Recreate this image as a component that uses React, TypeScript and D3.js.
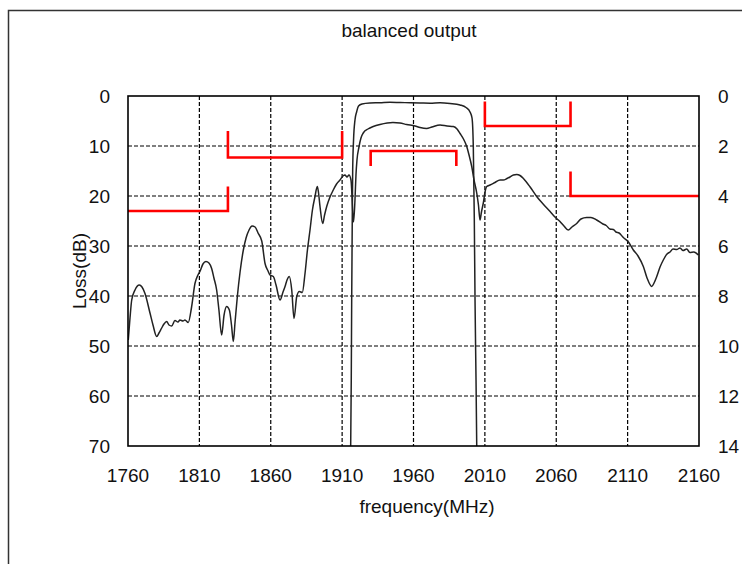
import React, { useEffect, useRef } from "react";
import * as d3 from "d3";

// ---- Data ----
const title = "balanced output";
const xLabel = "frequency(MHz)";
const yLabel = "Loss(dB)";
const xTicks = [1760, 1810, 1860, 1910, 1960, 2010, 2060, 2110, 2160];
const yLeftTicks = [0, 10, 20, 30, 40, 50, 60, 70];
const yRightTicks = [0, 2, 4, 6, 8, 10, 12, 14];

// Wideband response (left axis, dB)
const wideFreq = [
  1760.2, 1761.4, 1762.6, 1764.9, 1767.9, 1769.8, 1771.9, 1775.4, 1777.5, 1780.1,
  1781.7, 1783.6, 1785.2, 1787.1, 1788.7, 1790.6, 1792.9, 1795.0, 1796.4, 1798.5,
  1799.9, 1802.2, 1804.6, 1806.9, 1809.0, 1810.4, 1812.5, 1814.6, 1816.7, 1818.6,
  1820.2, 1822.1, 1823.7, 1825.6, 1827.3, 1829.1, 1831.0, 1832.5, 1833.8, 1835.0,
  1836.6, 1838.5, 1840.8, 1842.7, 1844.8, 1846.9, 1849.0, 1851.1, 1853.7, 1856.0,
  1858.1, 1859.5, 1861.8, 1863.7, 1866.5, 1868.6, 1870.0, 1871.4, 1873.0, 1874.7,
  1876.3, 1878.2, 1880.0, 1882.1, 1884.0, 1885.7, 1887.5, 1889.2, 1891.0, 1892.6,
  1893.4, 1894.5, 1896.4, 1897.7, 1899.2, 1901.5, 1903.8, 1906.1, 1908.5, 1910.6,
  1912.0, 1913.4, 1914.8, 1916.2, 1918.0, 1919.0, 1919.7, 1920.4, 1921.8, 1923.2,
  1924.8, 1928.1, 1931.8, 1936.5, 1945.6, 1950.5, 1955.2, 1961.1, 1964.6, 1969.2,
  1972.9, 1978.6, 1983.5, 1987.9, 1990.5, 1992.6, 1995.0, 1997.3, 1998.9, 2000.8,
  2002.4, 2004.3, 2005.5, 2006.6, 2007.6, 2008.9, 2010.1, 2011.3, 2013.6, 2017.1,
  2020.6, 2022.9, 2025.5, 2027.6, 2030.0, 2032.3, 2034.6, 2037.0, 2041.7, 2046.3,
  2050.8, 2055.7, 2059.1, 2062.6, 2065.4, 2068.4, 2071.0, 2074.3, 2077.3, 2081.3,
  2084.3, 2088.3, 2092.7, 2095.0, 2097.6, 2100.0, 2101.8, 2104.0, 2107.0, 2110.3,
  2114.0, 2117.3, 2121.0, 2123.6, 2126.9, 2128.5, 2130.4, 2132.7, 2135.0, 2137.6,
  2139.7, 2141.8, 2144.4, 2146.7, 2148.8, 2151.4, 2153.6, 2156.4, 2159.5,
];
const wideLoss = [
  48.8, 44.4, 40.8, 38.8, 37.8, 38.2, 39.5, 43.4, 45.8, 48.1,
  47.4, 46.4, 45.6, 45.1, 45.8, 46.0, 44.9, 45.2, 44.8, 45.0,
  44.8, 45.3, 42.1, 37.5, 35.8, 35.1, 33.6, 33.1, 33.4, 34.5,
  36.4, 38.8, 42.8, 47.8, 43.8, 42.1, 42.8, 45.8, 49.1, 45.2,
  40.1, 35.2, 30.8, 28.4, 26.8, 26.0, 26.2, 27.4, 29.0, 33.5,
  35.0, 35.8, 36.1, 37.8, 40.8, 39.2, 38.1, 36.8, 36.1, 38.8,
  44.5, 40.1, 39.1, 39.3, 35.5, 30.8, 26.8, 22.8, 20.1, 18.1,
  19.2, 22.1, 25.5, 23.8, 22.1, 20.2, 18.8, 17.6, 16.8, 16.0,
  15.8, 16.2, 15.8, 16.8, 25.2, 20.8, 15.8, 12.8, 10.2, 8.4,
  7.4, 6.6, 6.1, 5.7, 5.3, 5.4, 5.7, 6.0, 6.3, 6.5,
  6.2, 5.8, 6.0, 6.1, 6.6, 7.5, 8.6, 10.1, 11.8, 14.1,
  16.8, 19.4, 21.8, 24.8, 23.2, 21.4, 19.2, 18.1, 17.8, 17.3,
  16.8, 16.8, 16.5, 16.2, 15.8, 15.7, 15.9, 16.5, 18.2, 20.1,
  21.6, 23.1, 24.2, 25.1, 26.0, 26.8, 26.2, 25.5, 24.6, 24.3,
  24.3, 24.8, 25.6, 25.9, 26.6, 26.7, 27.2, 27.4, 28.3, 29.1,
  30.8, 32.0, 34.1, 36.4, 38.1, 37.4, 36.1, 34.2, 32.8, 31.6,
  31.2, 30.6, 30.7, 30.4, 30.9, 30.6, 31.3, 31.2, 31.8,
];

// Passband response (right axis)
const passFreq = [
  1916.0, 1916.4, 1916.7, 1917.1, 1917.4, 1918.0, 1919.0, 1920.2, 1921.5, 1923.9,
  1929.5, 1936.5, 1943.5, 1950.5, 1957.6, 1964.6, 1971.6, 1978.6, 1985.6, 1992.6,
  1996.8, 1999.6, 2001.0, 2001.9, 2002.6, 2003.1, 2003.8, 2004.3,
];
const passLoss = [
  14.0, 11.36, 8.16, 4.96, 2.96, 1.76, 0.96, 0.63, 0.40, 0.32,
  0.28, 0.27, 0.25, 0.26, 0.27, 0.28, 0.29, 0.27, 0.30, 0.36,
  0.46, 0.64, 0.88, 2.04, 4.96, 8.16, 11.36, 14.0,
];

// Specification masks
const maskStart = [1760, 1830, 1930, 2010, 2070];
const maskEnd = [1830, 1910, 1990, 2070, 2160];
const maskLevel = [23, 12.3, 2.2, 6, 20];
const maskTickTo = [18.1, 7, 2.8, 1.1, 15.1];
const maskAxis = ["left", "left", "right", "left", "left"];
const maskTickAtStart = [false, true, true, true, true];
const maskTickAtEnd = [true, true, true, true, false];

const W = 742;
const H = 564;
const M = { left: 128, right: 699, top: 96, bottom: 446 };
const FONT = "'Liberation Sans', Arial, sans-serif";

export default function App() {
  const ref = useRef<SVGSVGElement | null>(null);

  useEffect(() => {
    const svg = d3.select(ref.current);
    svg.selectAll("*").remove();

    const x = d3.scaleLinear().domain([1760, 2160]).range([M.left, M.right]);
    const yL = d3.scaleLinear().domain([0, 70]).range([M.top, M.bottom]);
    const yR = d3.scaleLinear().domain([0, 14]).range([M.top, M.bottom]);

    svg.append("rect").attr("width", W).attr("height", H).attr("fill", "#fff");

    // outer frame
    svg
      .append("path")
      .attr("d", `M8.5,${H} L8.5,10.5 L${W},10.5`)
      .attr("fill", "none")
      .attr("stroke", "#333")
      .attr("stroke-width", 1.5);

    // grid
    const grid = svg.append("g").attr("stroke", "#000").attr("stroke-width", 1.2).attr("stroke-dasharray", "4,2");
    xTicks.slice(1, -1).forEach((t) => {
      grid.append("line").attr("x1", x(t)).attr("x2", x(t)).attr("y1", M.top).attr("y2", M.bottom);
    });
    yLeftTicks.slice(1, -1).forEach((t) => {
      grid.append("line").attr("x1", M.left).attr("x2", M.right).attr("y1", yL(t)).attr("y2", yL(t));
    });

    svg
      .append("defs")
      .append("clipPath")
      .attr("id", "plotclip")
      .append("rect")
      .attr("x", M.left)
      .attr("y", M.top)
      .attr("width", M.right - M.left)
      .attr("height", M.bottom - M.top);

    const plot = svg.append("g").attr("clip-path", "url(#plotclip)");

    const lineL = d3
      .line<number>()
      .x((_, i) => x(wideFreq[i]))
      .y((d) => yL(d))
      .curve(d3.curveMonotoneX);
    const lineR = d3
      .line<number>()
      .x((_, i) => x(passFreq[i]))
      .y((d) => yR(d))
      .curve(d3.curveMonotoneX);

    plot
      .append("path")
      .attr("d", lineL(wideLoss) as string)
      .attr("fill", "none")
      .attr("stroke", "#222")
      .attr("stroke-width", 1.5);
    plot
      .append("path")
      .attr("d", lineR(passLoss) as string)
      .attr("fill", "none")
      .attr("stroke", "#222")
      .attr("stroke-width", 1.5);

    // masks
    maskStart.forEach((s, i) => {
      const ys = maskAxis[i] === "left" ? yL : yR;
      const pts: [number, number][] = [];
      if (maskTickAtStart[i]) pts.push([x(s), ys(maskTickTo[i])]);
      pts.push([x(s), ys(maskLevel[i])]);
      pts.push([x(maskEnd[i]), ys(maskLevel[i])]);
      if (maskTickAtEnd[i]) pts.push([x(maskEnd[i]), ys(maskTickTo[i])]);
      svg
        .append("path")
        .attr("d", d3.line()(pts) as string)
        .attr("fill", "none")
        .attr("stroke", "#ff0000")
        .attr("stroke-width", 2.6);
    });

    // plot frame
    svg
      .append("rect")
      .attr("x", M.left)
      .attr("y", M.top)
      .attr("width", M.right - M.left)
      .attr("height", M.bottom - M.top)
      .attr("fill", "none")
      .attr("stroke", "#000")
      .attr("stroke-width", 1.6);

    const txt = svg.append("g").attr("font-family", FONT).attr("font-size", 19).attr("fill", "#111");

    txt.append("text").attr("x", 409).attr("y", 37).attr("text-anchor", "middle").text(title);

    xTicks.forEach((t) => {
      txt.append("text").attr("x", x(t)).attr("y", 482).attr("text-anchor", "middle").text(String(t));
    });
    yLeftTicks.forEach((t) => {
      txt
        .append("text")
        .attr("x", 110)
        .attr("y", yL(t))
        .attr("dy", "0.36em")
        .attr("text-anchor", "end")
        .text(String(t));
    });
    yRightTicks.forEach((t) => {
      txt
        .append("text")
        .attr("x", 718)
        .attr("y", yR(t))
        .attr("dy", "0.36em")
        .attr("text-anchor", "start")
        .text(String(t));
    });
    txt.append("text").attr("x", 427).attr("y", 513).attr("text-anchor", "middle").text(xLabel);
    txt
      .append("text")
      .attr("transform", `translate(79,${(M.top + M.bottom) / 2}) rotate(-90)`)
      .attr("text-anchor", "middle")
      .attr("dy", "0.36em")
      .text(yLabel);
  }, []);

  return (
    <svg
      ref={ref}
      width={W}
      height={H}
      style={{ position: "absolute", left: 0, top: 0, display: "block" }}
    />
  );
}
